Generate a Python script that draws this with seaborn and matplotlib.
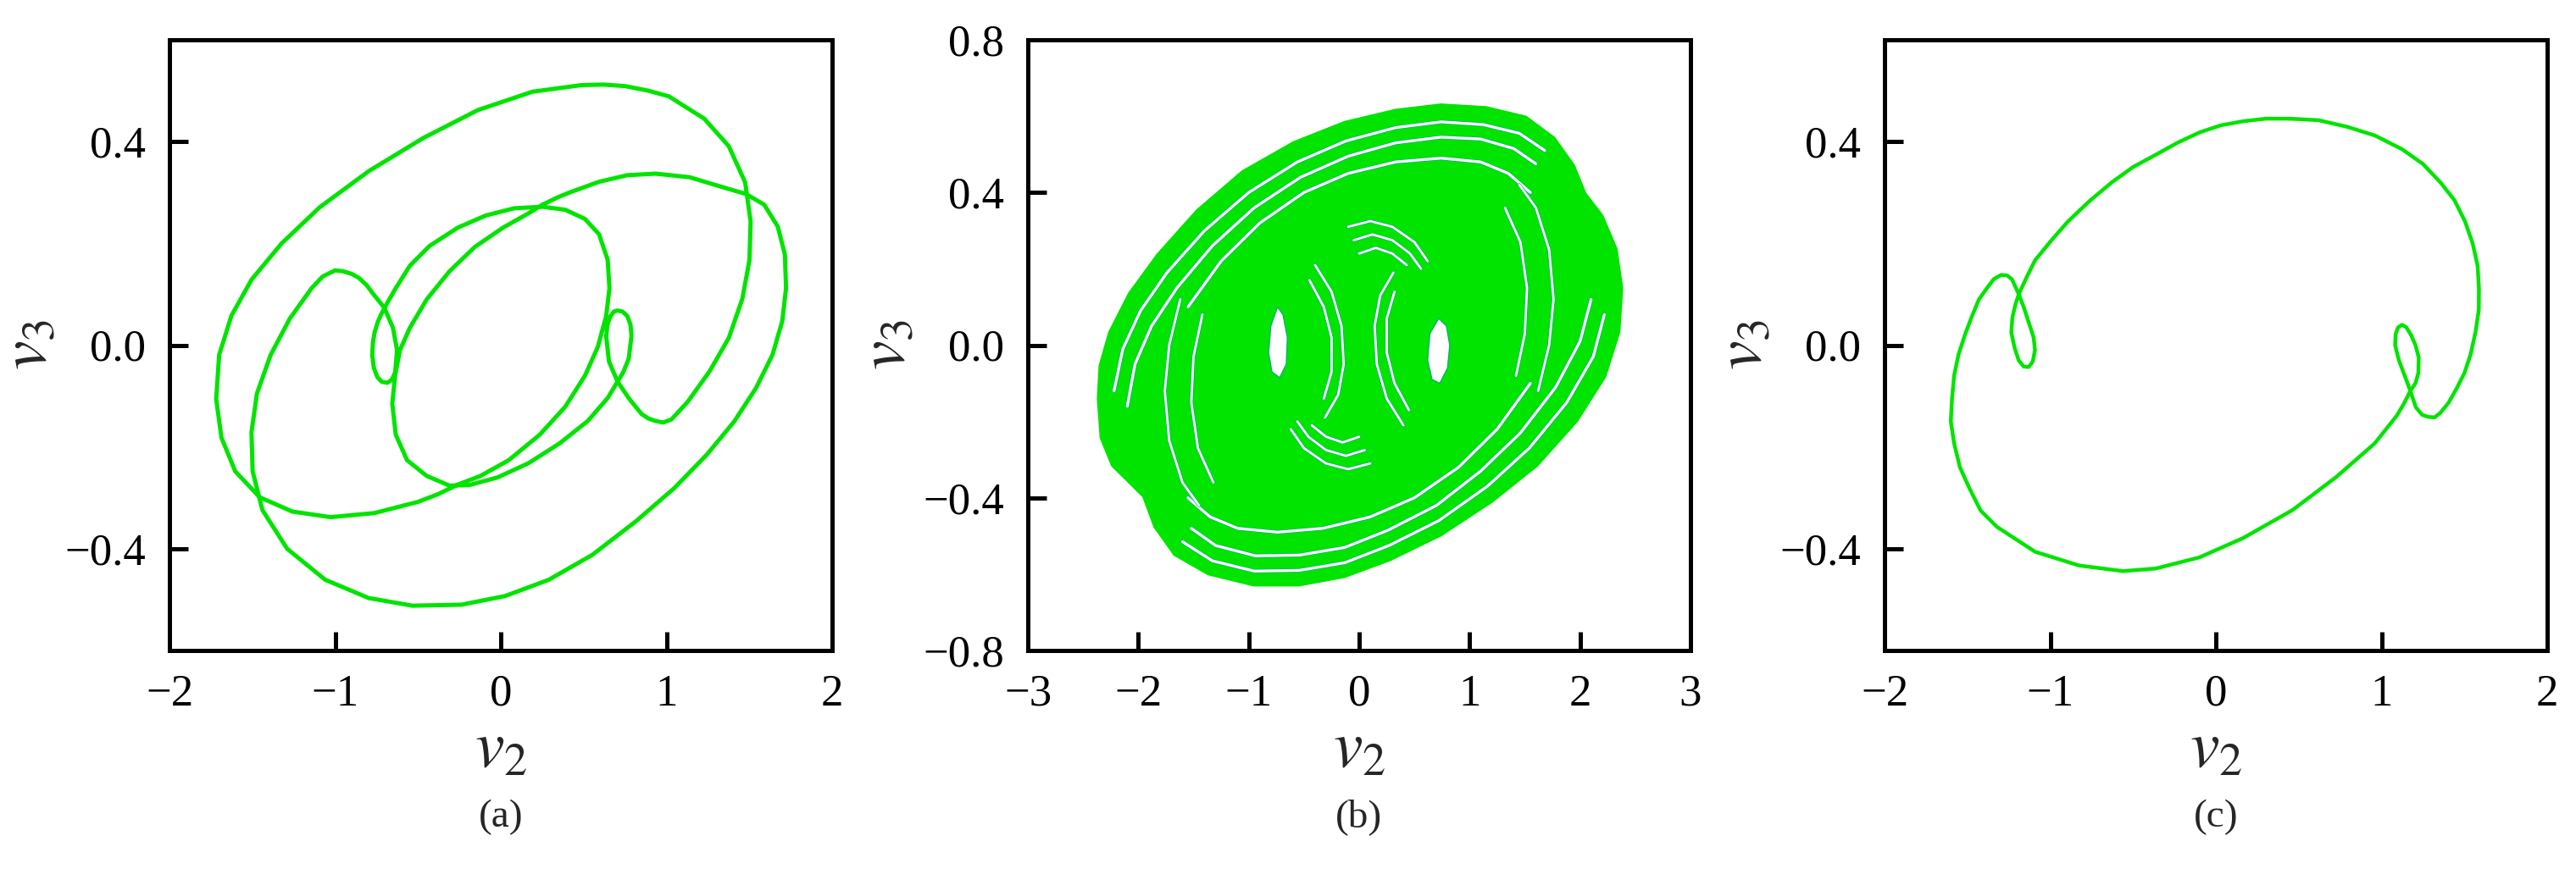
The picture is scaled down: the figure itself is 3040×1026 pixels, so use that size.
import matplotlib
matplotlib.use("Agg")
import numpy as np
import pandas as pd
import matplotlib.pyplot as plt
import matplotlib.patheffects as pe
import seaborn as sns

GREEN = "#00E400"
EDGE = "#00B46E"

# ---- panel (a): traced periodic orbit (v2, v3), one closed loop ----
a_v2 = [0.252, 0.34, 0.423, 0.593, 0.764, 0.934, 1.139, 1.344, 1.48, 1.59,
        1.672, 1.715, 1.722, 1.699, 1.64, 1.541, 1.409, 1.244, 1.047, 0.816,
        0.553, 0.29, 0.026, -0.237, -0.533, -0.797, -1.06, -1.29, -1.439, -1.498,
        -1.505, -1.472, -1.389, -1.274, -1.142, -1.075, -1.0, -0.95, -0.90, -0.856,
        -0.81, -0.771, -0.702, -0.651, -0.626, -0.638, -0.658, -0.685, -0.718, -0.745,
        -0.766, -0.776, -0.772, -0.762, -0.742, -0.72, -0.694, -0.634, -0.549, -0.43,
        -0.259, -0.089, 0.082, 0.252, 0.389, 0.508, 0.593, 0.645, 0.656, 0.636,
        0.585, 0.508, 0.389, 0.235, 0.048, -0.123, -0.259, -0.38, -0.50, -0.764,
        -1.027, -1.258, -1.455, -1.603, -1.686, -1.718, -1.70, -1.626, -1.504, -1.323,
        -1.093, -0.797, -0.468, -0.138, 0.191, 0.487, 0.62, 0.751, 0.89, 1.014,
        1.228, 1.376, 1.475, 1.508, 1.501, 1.458, 1.376, 1.261, 1.129, 1.03,
        0.98, 0.934, 0.89, 0.849, 0.772, 0.704, 0.653, 0.636, 0.645, 0.662,
        0.683, 0.704, 0.735, 0.764, 0.783, 0.789, 0.772, 0.738, 0.704, 0.645,
        0.525, 0.355, 0.167, -0.02, -0.191, -0.31, -0.447, -0.566, -0.634, -0.655,
        -0.638, -0.609, -0.549, -0.447, -0.31, -0.157, 0.014, 0.167]
a_v3 = [0.276, 0.29, 0.301, 0.321, 0.334, 0.337, 0.33, 0.31, 0.297, 0.276,
        0.233, 0.178, 0.112, 0.047, -0.019, -0.084, -0.15, -0.215, -0.281, -0.346,
        -0.412, -0.461, -0.493, -0.51, -0.512, -0.497, -0.461, -0.40, -0.324, -0.248,
        -0.171, -0.095, -0.019, 0.052, 0.112, 0.135, 0.147, 0.145, 0.14, 0.132,
        0.118, 0.101, 0.073, 0.034, -0.01, -0.054, -0.068, -0.074, -0.072, -0.063,
        -0.045, -0.02, 0.005, 0.025, 0.046, 0.062, 0.078, 0.112, 0.156, 0.195,
        0.231, 0.255, 0.269, 0.272, 0.266, 0.248, 0.218, 0.168, 0.112, 0.057,
        -0.004, -0.06, -0.121, -0.176, -0.226, -0.257, -0.274, -0.293, -0.308, -0.33,
        -0.338, -0.327, -0.299, -0.248, -0.182, -0.106, -0.019, 0.058, 0.129, 0.20,
        0.271, 0.342, 0.407, 0.462, 0.498, 0.511, 0.512, 0.509, 0.50, 0.489,
        0.445, 0.391, 0.32, 0.243, 0.167, 0.091, 0.014, -0.051, -0.111, -0.146,
        -0.152, -0.149, -0.144, -0.135, -0.104, -0.071, -0.032, 0.018, 0.042, 0.057,
        0.066, 0.068, 0.066, 0.057, 0.04, 0.018, -0.027, -0.054, -0.072, -0.104,
        -0.149, -0.193, -0.232, -0.26, -0.275, -0.276, -0.257, -0.226, -0.176, -0.115,
        -0.06, -0.01, 0.034, 0.09, 0.145, 0.193, 0.231, 0.259]

# ---- panel (c): traced period-1 orbit ----
c_v2 = [0.446, 0.62, 0.793, 0.96, 1.124, 1.25, 1.355, 1.44, 1.504, 1.55,
        1.58, 1.588, 1.587, 1.567, 1.537, 1.50, 1.455, 1.405, 1.355, 1.32,
        1.283, 1.245, 1.207, 1.174, 1.14, 1.105, 1.082, 1.085, 1.10, 1.124,
        1.15, 1.178, 1.205, 1.225, 1.222, 1.205, 1.174, 1.135, 1.091, 0.959,
        0.727, 0.463, 0.165, -0.099, -0.364, -0.562, -0.826, -1.091, -1.322, -1.42,
        -1.488, -1.545, -1.58, -1.6, -1.593, -1.58, -1.554, -1.515, -1.471, -1.43,
        -1.382, -1.34, -1.296, -1.26, -1.23, -1.19, -1.16, -1.13, -1.10, -1.092,
        -1.105, -1.13, -1.16, -1.19, -1.215, -1.235, -1.228, -1.21, -1.19, -1.14,
        -1.091, -0.99, -0.893, -0.76, -0.628, -0.50, -0.364, -0.23, -0.099, 0.03,
        0.165, 0.30]
c_v3 = [0.445, 0.442, 0.429, 0.412, 0.385, 0.356, 0.32, 0.285, 0.243, 0.20,
        0.156, 0.112, 0.069, 0.025, -0.019, -0.055, -0.084, -0.113, -0.133, -0.142,
        -0.141, -0.137, -0.122, -0.09, -0.06, -0.03, 0.0, 0.022, 0.035, 0.04,
        0.035, 0.02, 0.0, -0.025, -0.055, -0.075, -0.09, -0.115, -0.139, -0.193,
        -0.259, -0.324, -0.379, -0.417, -0.439, -0.444, -0.433, -0.406, -0.357, -0.325,
        -0.281, -0.24, -0.193, -0.15, -0.106, -0.06, -0.019, 0.02, 0.058, 0.09,
        0.112, 0.13, 0.138, 0.137, 0.129, 0.10, 0.075, 0.045, 0.015, -0.01,
        -0.032, -0.043, -0.042, -0.03, -0.005, 0.025, 0.055, 0.08, 0.10, 0.135,
        0.167, 0.207, 0.243, 0.284, 0.32, 0.35, 0.374, 0.398, 0.418, 0.432,
        0.44, 0.445]

# ---- panel (b): chaotic attractor, traced outline, gaps and holes ----
b_edge_v2 = [-2.368, -2.342, -2.239, -2.085, -1.957, -1.854, -1.674, -1.366, -0.955, -0.544,
             -0.134, 0.277, 0.74, 1.202, 1.613, 1.972, 2.229, 2.357, 2.383, 2.332,
             2.203, 2.049, 1.947, 1.767, 1.51, 1.15, 0.74, 0.329, -0.134, -0.596,
             -1.058, -1.469, -1.828, -2.085, -2.265, -2.352]
b_edge_v3 = [-0.141, -0.243, -0.316, -0.36, -0.397, -0.477, -0.55, -0.601, -0.63, -0.63,
             -0.608, -0.564, -0.499, -0.411, -0.316, -0.20, -0.083, 0.034, 0.15, 0.252,
             0.34, 0.398, 0.471, 0.544, 0.599, 0.624, 0.631, 0.617, 0.585, 0.532,
             0.456, 0.354, 0.238, 0.136, 0.034, -0.054]

b_gaps = {
    "G1": ([-2.22, -2.14, -1.98, -1.74, -1.40, -1.0, -0.56, -0.12, 0.33, 0.74, 1.12, 1.45, 1.68],
           [-0.12, -0.01, 0.09, 0.19, 0.30, 0.40, 0.48, 0.535, 0.57, 0.585, 0.578, 0.555, 0.51]),
    "G2": ([-2.1, -2.03, -1.88, -1.65, -1.33, -0.95, -0.53, -0.1, 0.33, 0.74, 1.1, 1.40, 1.6],
           [-0.16, -0.05, 0.05, 0.15, 0.26, 0.36, 0.44, 0.495, 0.53, 0.545, 0.54, 0.515, 0.475]),
    "G3": ([-1.55, -1.25, -0.9, -0.5, -0.1, 0.33, 0.74, 1.1, 1.35, 1.55],
           [0.10, 0.22, 0.32, 0.40, 0.45, 0.48, 0.49, 0.48, 0.45, 0.40]),
    "H1": ([2.22, 2.12, 1.88, 1.54, 1.16, 0.72, 0.27, -0.13, -0.54, -0.95, -1.33, -1.6],
           [0.08, -0.03, -0.15, -0.27, -0.37, -0.46, -0.525, -0.57, -0.59, -0.592, -0.565, -0.515]),
    "H2": ([2.1, 2.0, 1.78, 1.46, 1.1, 0.7, 0.26, -0.13, -0.54, -0.94, -1.3, -1.52],
           [0.12, 0.01, -0.11, -0.23, -0.33, -0.42, -0.485, -0.53, -0.55, -0.552, -0.525, -0.48]),
    "H3": ([1.55, 1.25, 0.9, 0.5, 0.1, -0.33, -0.74, -1.1, -1.35, -1.55],
           [-0.10, -0.22, -0.32, -0.40, -0.45, -0.48, -0.49, -0.48, -0.45, -0.40]),
    "L1": ([-1.62, -1.72, -1.76, -1.72, -1.6, -1.45], [0.12, 0.0, -0.12, -0.25, -0.36, -0.42]),
    "L2": ([-1.42, -1.5, -1.52, -1.46, -1.32], [0.08, -0.03, -0.15, -0.27, -0.36]),
    "R1": ([1.62, 1.72, 1.76, 1.72, 1.6, 1.45], [-0.12, 0.0, 0.12, 0.25, 0.36, 0.42]),
    "R2": ([1.42, 1.5, 1.52, 1.46, 1.32], [-0.08, 0.03, 0.15, 0.27, 0.36]),
    "C1": ([-0.40, -0.25, -0.16, -0.14, -0.19, -0.31], [0.21, 0.14, 0.05, -0.05, -0.13, -0.19]),
    "C2": ([-0.45, -0.32, -0.25, -0.25, -0.32], [0.17, 0.10, 0.02, -0.07, -0.14]),
    "C3": ([0.40, 0.25, 0.16, 0.14, 0.19, 0.31], [-0.21, -0.14, -0.05, 0.05, 0.13, 0.19]),
    "C4": ([0.45, 0.32, 0.25, 0.25, 0.32], [-0.17, -0.10, -0.02, 0.07, 0.14]),
    "T1": ([-0.10, 0.10, 0.30, 0.50, 0.62], [0.31, 0.325, 0.31, 0.27, 0.22]),
    "T2": ([-0.05, 0.12, 0.30, 0.46, 0.56], [0.275, 0.29, 0.275, 0.24, 0.20]),
    "T3": ([0.0, 0.15, 0.30, 0.43], [0.24, 0.255, 0.24, 0.21]),
    "B1": ([0.10, -0.10, -0.30, -0.50, -0.62], [-0.31, -0.325, -0.31, -0.27, -0.22]),
    "B2": ([0.05, -0.12, -0.30, -0.46, -0.56], [-0.275, -0.29, -0.275, -0.24, -0.20]),
    "B3": ([0.0, -0.15, -0.30, -0.43], [-0.24, -0.255, -0.24, -0.21]),
}

b_hole_left = ([-0.74, -0.80, -0.82, -0.79, -0.72, -0.66, -0.65, -0.69],
               [0.10, 0.05, -0.02, -0.07, -0.085, -0.05, 0.02, 0.08])
b_hole_right = ([0.72, 0.64, 0.62, 0.66, 0.73, 0.80, 0.82, 0.79],
                [0.07, 0.03, -0.04, -0.09, -0.10, -0.06, 0.0, 0.05])

sns.set_theme(style="white")
plt.rcParams["font.family"] = ["Liberation Serif", "DejaVu Serif"]
plt.rcParams["mathtext.fontset"] = "stix"
plt.rcParams["axes.unicode_minus"] = True


def closed(xs, ys):
    return pd.DataFrame({"v2": list(xs) + [xs[0]], "v3": list(ys) + [ys[0]]})


def style(ax, xticks, yticks, ylim, tag):
    ax.set_xlim(xticks[0], xticks[-1])
    ax.set_ylim(*ylim)
    ax.set_xticks(xticks)
    ax.set_yticks(yticks)
    ax.set_xticklabels([str(v).replace("-", "\u2212") for v in xticks])
    ax.set_yticklabels([f"{v:.1f}".replace("-", "\u2212") for v in yticks])
    ax.tick_params(direction="in", length=16, width=3.6, labelsize=38,
                   pad=20, bottom=True, left=True, top=False, right=False,
                   colors="black")
    for s in ax.spines.values():
        s.set_visible(True)
        s.set_linewidth(3.6)
        s.set_color("black")
    ax.set_xlabel("$v_2$", fontsize=56, va="baseline")
    ax.xaxis.set_label_coords(0.5, (768 - 905) / 721)
    ax.set_ylabel("$v_3$", fontsize=56)
    ax.yaxis.set_label_coords(-0.165, 0.5)
    ax.grid(False)
    pos = ax.get_position()
    fig.text(pos.x0 + pos.width / 2, 0.06, tag, ha="center", va="center", fontsize=34)


fig = plt.figure(figsize=(30.4, 10.26), dpi=100)
W, H = 3040, 1026
lefts = [200, 1213, 2224]
axes = [fig.add_axes([l / W, 1 - 768 / H, 782 / W, 721 / H]) for l in lefts]
ax_a, ax_b, ax_c = axes

# (a)
sns.lineplot(data=closed(a_v2, a_v3), x="v2", y="v3", sort=False, estimator=None,
             color=GREEN, lw=3.6, ax=ax_a, solid_joinstyle="round")
style(ax_a, [-2, -1, 0, 1, 2], [-0.4, 0.0, 0.4], (-0.6, 0.6), "(a)")

# (b)
ax_b.fill(b_edge_v2, b_edge_v3, color=GREEN, lw=1.5, ec=GREEN)
for name, (gx, gy) in b_gaps.items():
    lw = 2.4 if name[0] in "GH" else 2.0
    ln, = ax_b.plot(gx, gy, color="white", lw=lw, solid_capstyle="round",
                    solid_joinstyle="round")
    ln.set_path_effects([pe.Stroke(linewidth=lw + 1.0, foreground=EDGE), pe.Normal()])
for hx, hy in (b_hole_left, b_hole_right):
    ax_b.fill(hx, hy, color="white", ec=EDGE, lw=1.0)
style(ax_b, [-3, -2, -1, 0, 1, 2, 3], [-0.8, -0.4, 0.0, 0.4, 0.8], (-0.8, 0.8), "(b)")

# (c)
sns.lineplot(data=closed(c_v2, c_v3), x="v2", y="v3", sort=False, estimator=None,
             color=GREEN, lw=3.2, ax=ax_c, solid_joinstyle="round")
style(ax_c, [-2, -1, 0, 1, 2], [-0.4, 0.0, 0.4], (-0.6, 0.6), "(c)")

fig.savefig("out.png", dpi=100, facecolor="white")
